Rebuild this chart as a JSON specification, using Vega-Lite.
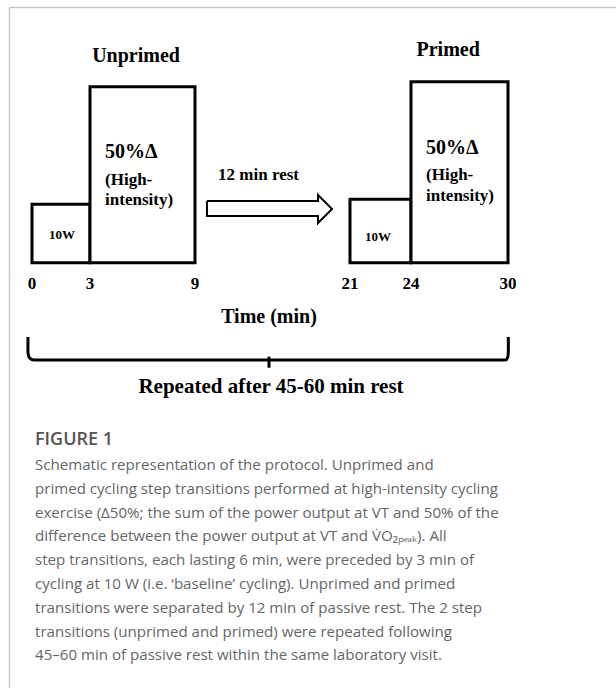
{
  "$schema": "https://vega.github.io/schema/vega-lite/v6.json",
  "width": 607,
  "height": 681,
  "padding": {"left": 9, "top": 7, "right": 0, "bottom": 0},
  "background": "white",
  "config": {"view": {"stroke": null}},
  "datasets": {
    "boxes": [
      {"phase": "Unprimed", "t0": 0, "t1": 3, "power": 1},
      {"phase": "Unprimed", "t0": 3, "t1": 9, "power": 3},
      {"phase": "Primed", "t0": 21, "t1": 24, "power": 1},
      {"phase": "Primed", "t0": 24, "t1": 30, "power": 3}
    ],
    "arrow": [
      {"ord": 1, "t": 9.97, "v": 1.054},
      {"ord": 2, "t": 18.63, "v": 1.054},
      {"ord": 3, "t": 18.63, "v": 1.156},
      {"ord": 4, "t": 19.67, "v": 0.917},
      {"ord": 5, "t": 18.63, "v": 0.678},
      {"ord": 6, "t": 18.63, "v": 0.798},
      {"ord": 7, "t": 9.97, "v": 0.798},
      {"ord": 8, "t": 9.97, "v": 1.054}
    ],
    "brace": [
      {"ord": 1, "t": -0.21, "v": -1.265},
      {"ord": 2, "t": -0.21, "v": -1.53},
      {"ord": 3, "t": -0.13, "v": -1.62},
      {"ord": 4, "t": 0.1, "v": -1.657},
      {"ord": 5, "t": 29.85, "v": -1.657},
      {"ord": 6, "t": 29.97, "v": -1.62},
      {"ord": 7, "t": 30.02, "v": -1.53},
      {"ord": 8, "t": 30.02, "v": -1.265}
    ],
    "tick": [{"t": 15, "v0": -1.6, "v1": -1.79}],
    "ticklabels": [
      {"label": "0", "t": 0, "v": -0.361},
      {"label": "3", "t": 3, "v": -0.361},
      {"label": "9", "t": 9, "v": -0.361},
      {"label": "21", "t": 21, "v": -0.361},
      {"label": "24", "t": 24, "v": -0.361},
      {"label": "30", "t": 30, "v": -0.361}
    ],
    "titles": [
      {"label": "Unprimed", "t": 5.63, "v": 3.525},
      {"label": "Primed", "t": 26.3, "v": 3.628}
    ],
    "delta": [
      {"label": "50%Δ", "t": 3.86, "v": 1.889},
      {"label": "50%Δ", "t": 24.93, "v": 1.957}
    ],
    "inner": [
      {"label": "(High-", "t": 3.86, "v": 1.412},
      {"label": "intensity)", "t": 3.86, "v": 1.071},
      {"label": "(High-", "t": 24.93, "v": 1.497},
      {"label": "intensity)", "t": 24.93, "v": 1.138},
      {"label": "12 min rest", "t": 10.87, "v": 1.497}
    ],
    "base": [
      {"label": "10W", "t": 1.55, "v": 0.474},
      {"label": "10W", "t": 22.38, "v": 0.44}
    ],
    "bottom": [
      {"label": "Time (min)", "t": 15, "v": -0.924, "size": "m"},
      {"label": "Repeated after 45-60 min rest", "t": 15.15, "v": -2.117, "size": "l"}
    ],
    "caption": [
      {"line": "Schematic representation of the protocol. Unprimed and", "t": 0.155, "v": -3.447},
      {"line": "primed cycling step transitions performed at high-intensity cycling", "t": 0.155, "v": -3.853},
      {"line": "exercise (Δ50%; the sum of the power output at VT and 50% of the", "t": 0.155, "v": -4.258},
      {"line": "difference between the power output at VT and V̇O₂ₚₑₐₖ). All", "t": 0.155, "v": -4.664},
      {"line": "step transitions, each lasting 6 min, were preceded by 3 min of", "t": 0.155, "v": -5.070},
      {"line": "cycling at 10 W (i.e. ‘baseline’ cycling). Unprimed and primed", "t": 0.155, "v": -5.476},
      {"line": "transitions were separated by 12 min of passive rest. The 2 step", "t": 0.155, "v": -5.881},
      {"line": "transitions (unprimed and primed) were repeated following", "t": 0.155, "v": -6.287},
      {"line": "45–60 min of passive rest within the same laboratory visit.", "t": 0.155, "v": -6.693}
    ],
    "figlabel": [
      {"line": "FIGURE 1", "t": 0.155, "v": -3.021}
    ]
  },
  "layer": [
    {
      "data": {"name": "boxes"},
      "transform": [{"filter": "datum.phase === 'Unprimed'"}],
      "mark": {"type": "rect", "fill": "white", "stroke": "black", "strokeWidth": 3},
      "encoding": {
        "x": {"field": "t0", "type": "quantitative",
          "scale": {"domain": [-1.19, 0, 3, 9, 15, 21, 24, 30, 36.68], "range": [0, 23, 81, 186, 260, 341, 402, 499, 607], "nice": false, "zero": false},
          "axis": {"orient": "top", "labels": false, "ticks": false, "grid": false, "title": null, "domain": true, "domainColor": "#c8c8c8", "domainWidth": 1.5}},
        "x2": {"field": "t1"},
        "y": {"field": "power", "type": "quantitative",
          "scale": {"domain": [-7.249, 4.361], "nice": false, "zero": false},
          "axis": {"orient": "left", "labels": false, "ticks": false, "grid": false, "title": null, "domain": true, "domainColor": "#c8c8c8", "domainWidth": 1.5}},
        "y2": {"datum": 0}
      }
    },
    {
      "data": {"name": "boxes"},
      "transform": [{"filter": "datum.phase === 'Primed'"}],
      "mark": {"type": "rect", "fill": "white", "stroke": "black", "strokeWidth": 3, "yOffset": -5},
      "encoding": {
        "x": {"field": "t0", "type": "quantitative"},
        "x2": {"field": "t1"},
        "y": {"field": "power", "type": "quantitative"},
        "y2": {"datum": 0}
      }
    },
    {
      "data": {"name": "arrow"},
      "mark": {"type": "line", "color": "black", "strokeWidth": 2},
      "encoding": {
        "x": {"field": "t", "type": "quantitative"},
        "y": {"field": "v", "type": "quantitative"},
        "order": {"field": "ord"}
      }
    },
    {
      "data": {"name": "brace"},
      "mark": {"type": "line", "color": "black", "strokeWidth": 3, "interpolate": "monotone"},
      "encoding": {
        "x": {"field": "t", "type": "quantitative"},
        "y": {"field": "v", "type": "quantitative"},
        "order": {"field": "ord"}
      }
    },
    {
      "data": {"name": "tick"},
      "mark": {"type": "rule", "color": "black", "strokeWidth": 3},
      "encoding": {
        "x": {"field": "t", "type": "quantitative"},
        "y": {"field": "v0", "type": "quantitative"},
        "y2": {"field": "v1"}
      }
    },
    {
      "data": {"name": "ticklabels"},
      "mark": {"type": "text", "font": "Liberation Serif", "fontWeight": "bold", "fontSize": 17, "align": "center", "baseline": "middle", "color": "black"},
      "encoding": {
        "x": {"field": "t", "type": "quantitative"},
        "y": {"field": "v", "type": "quantitative"},
        "text": {"field": "label"}
      }
    },
    {
      "data": {"name": "titles"},
      "mark": {"type": "text", "font": "Liberation Serif", "fontWeight": "bold", "fontSize": 20, "align": "center", "baseline": "middle", "color": "black"},
      "encoding": {
        "x": {"field": "t", "type": "quantitative"},
        "y": {"field": "v", "type": "quantitative"},
        "text": {"field": "label"}
      }
    },
    {
      "data": {"name": "delta"},
      "mark": {"type": "text", "font": "Liberation Serif", "fontWeight": "bold", "fontSize": 20, "align": "left", "baseline": "middle", "color": "black"},
      "encoding": {
        "x": {"field": "t", "type": "quantitative"},
        "y": {"field": "v", "type": "quantitative"},
        "text": {"field": "label"}
      }
    },
    {
      "data": {"name": "inner"},
      "mark": {"type": "text", "font": "Liberation Serif", "fontWeight": "bold", "fontSize": 17, "align": "left", "baseline": "middle", "color": "black"},
      "encoding": {
        "x": {"field": "t", "type": "quantitative"},
        "y": {"field": "v", "type": "quantitative"},
        "text": {"field": "label"}
      }
    },
    {
      "data": {"name": "base"},
      "mark": {"type": "text", "font": "Liberation Serif", "fontWeight": "bold", "fontSize": 13, "align": "center", "baseline": "middle", "color": "black"},
      "encoding": {
        "x": {"field": "t", "type": "quantitative"},
        "y": {"field": "v", "type": "quantitative"},
        "text": {"field": "label"}
      }
    },
    {
      "data": {"name": "bottom"},
      "transform": [{"filter": "datum.size === 'm'"}],
      "mark": {"type": "text", "font": "Liberation Serif", "fontWeight": "bold", "fontSize": 20, "align": "center", "baseline": "middle", "color": "black"},
      "encoding": {
        "x": {"field": "t", "type": "quantitative"},
        "y": {"field": "v", "type": "quantitative"},
        "text": {"field": "label"}
      }
    },
    {
      "data": {"name": "bottom"},
      "transform": [{"filter": "datum.size === 'l'"}],
      "mark": {"type": "text", "font": "Liberation Serif", "fontWeight": "bold", "fontSize": 21, "align": "center", "baseline": "middle", "color": "black"},
      "encoding": {
        "x": {"field": "t", "type": "quantitative"},
        "y": {"field": "v", "type": "quantitative"},
        "text": {"field": "label"}
      }
    },
    {
      "data": {"name": "figlabel"},
      "mark": {"type": "text", "font": "Open Sans", "fontWeight": 600, "fontSize": 18, "align": "left", "baseline": "middle", "color": "#555555"},
      "encoding": {
        "x": {"field": "t", "type": "quantitative"},
        "y": {"field": "v", "type": "quantitative"},
        "text": {"field": "line"}
      }
    },
    {
      "data": {"name": "caption"},
      "mark": {"type": "text", "font": "Open Sans", "fontSize": 15.1, "align": "left", "baseline": "middle", "color": "#666666"},
      "encoding": {
        "x": {"field": "t", "type": "quantitative"},
        "y": {"field": "v", "type": "quantitative"},
        "text": {"field": "line"}
      }
    }
  ]
}
